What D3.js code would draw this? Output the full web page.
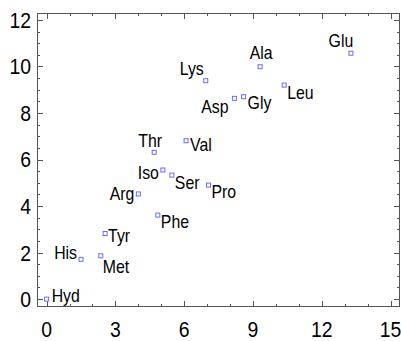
<!DOCTYPE html>
<html>
<head>
<meta charset="utf-8">
<script src="https://cdn.jsdelivr.net/npm/d3@7"></script>
<style>
  body { margin: 0; background: #fff; }
  text { font-family: "Liberation Sans", Arial, sans-serif; fill: #000; }
</style>
</head>
<body>
<div id="chart"></div>
<script>
(function() {

  var width = 401,
      height = 341

  // amino acid data
  var names = ["Hyd", "His", "Met", "Tyr", "Arg", "Phe", "Iso", "Ser", "Pro",
               "Thr", "Val", "Lys", "Asp", "Gly", "Ala", "Leu", "Glu"]
  var xValues = [0, 1.5, 2.36, 2.55, 4.0, 4.85, 5.07, 5.46, 7.06,
                 4.69, 6.08, 6.94, 8.19, 8.59, 9.31, 10.36, 13.27]
  var yValues = [0, 1.71, 1.86, 2.82, 4.52, 3.61, 5.55, 5.33, 4.9,
                 6.31, 6.81, 9.39, 8.63, 8.70, 9.99, 9.2, 10.57]

  var xTicks = [0, 3, 6, 9, 12, 15]
  var yTicks = [0, 2, 4, 6, 8, 10, 12]

  // where each label sits relative to its point: [dx, dy, anchor]
  var labelPlace = {
    Hyd: [5, -4, "start"], His: [-4, -7, "end"], Met: [2, 11, "start"],
    Tyr: [3, 2, "start"], Arg: [-4, 0, "end"], Phe: [3, 6, "start"],
    Iso: [-4, 3, "end"], Ser: [3, 7, "start"], Pro: [3, 6, "start"],
    Thr: [-4, -12, "middle"], Val: [4, 4, "start"], Lys: [-2, -12, "end"],
    Asp: [-6, 8, "end"], Gly: [4, 6, "start"], Ala: [1, -14, "middle"],
    Leu: [3, 7, "start"], Glu: [-10, -13, "middle"]
  }

  var margin = { top: 13, right: 1, bottom: 34, left: 37 }
  var plotW = width - margin.left - margin.right,
      plotH = height - margin.top - margin.bottom

  var xScale = d3.scaleLinear().domain([-0.42, 15.41]).range([0, plotW])
  var yScale = d3.scaleLinear().domain([-0.34, 12.3]).range([plotH, 0])

  var svg = d3.select("#chart")
    .append("svg")
    .attr("width", width)
    .attr("height", height)

  var g = svg.append("g")
    .attr("transform", "translate(" + margin.left + "," + margin.top + ")")

  var axisColor = "#555"
  var squeeze = 0.88

  // frame
  g.append("rect")
    .attr("x", 0.5)
    .attr("y", 0.5)
    .attr("width", plotW - 1)
    .attr("height", plotH - 1)
    .attr("fill", "none")
    .attr("stroke", axisColor)

  // minor + major ticks, pointing inward on all four sides
  var xMinor = d3.range(0, 16, 1)
  var yMinor = d3.range(0, 12.01, 0.5)

  xMinor.forEach(function(v) {
    var len = (v % 3 === 0) ? 6 : 3
    var x = Math.round(xScale(v)) + 0.5
    g.append("line").attr("x1", x).attr("x2", x)
      .attr("y1", plotH).attr("y2", plotH - len).attr("stroke", axisColor)
    g.append("line").attr("x1", x).attr("x2", x)
      .attr("y1", 0).attr("y2", len).attr("stroke", axisColor)
  })

  yMinor.forEach(function(v) {
    var len = (v % 2 === 0) ? 6 : 3
    var y = Math.round(yScale(v)) + 0.5
    g.append("line").attr("y1", y).attr("y2", y)
      .attr("x1", 0).attr("x2", len).attr("stroke", axisColor)
    g.append("line").attr("y1", y).attr("y2", y)
      .attr("x1", plotW).attr("x2", plotW - len).attr("stroke", axisColor)
  })

  // tick labels
  g.selectAll(".xlab")
    .data(xTicks)
    .enter().append("text")
    .attr("class", "xlab")
    .attr("transform", function(d) {
      return "translate(" + xScale(d) + "," + (plotH + 30) + ") scale(" + squeeze + ",1)"
    })
    .attr("text-anchor", "middle")
    .attr("font-size", 22)
    .text(function(d) { return d })

  g.selectAll(".ylab")
    .data(yTicks)
    .enter().append("text")
    .attr("class", "ylab")
    .attr("transform", function(d) {
      return "translate(-6," + yScale(d) + ") scale(" + squeeze + ",1)"
    })
    .attr("text-anchor", "end")
    .attr("dy", "0.36em")
    .attr("font-size", 22)
    .text(function(d) { return d })

  // points
  var points = names.map(function(n, i) {
    return { name: n, x: xValues[i], y: yValues[i] }
  })

  g.selectAll(".pt")
    .data(points)
    .enter().append("rect")
    .attr("class", "pt")
    .attr("x", function(d) { return xScale(d.x) - 2 })
    .attr("y", function(d) { return yScale(d.y) - 2 })
    .attr("width", 4)
    .attr("height", 4)
    .attr("fill", "#fff")
    .attr("stroke", "#6b6bff")
    .attr("stroke-width", 1)

  // point labels
  g.selectAll(".lab")
    .data(points)
    .enter().append("text")
    .attr("class", "lab")
    .attr("transform", function(d) {
      var p = labelPlace[d.name]
      return "translate(" + (xScale(d.x) + p[0]) + "," + (yScale(d.y) + p[1]) + ") scale(" + squeeze + ",1)"
    })
    .attr("text-anchor", function(d) { return labelPlace[d.name][2] })
    .attr("dy", "0.36em")
    .attr("font-size", 18)
    .text(function(d) { return d.name })

})()
</script>
</body>
</html>
